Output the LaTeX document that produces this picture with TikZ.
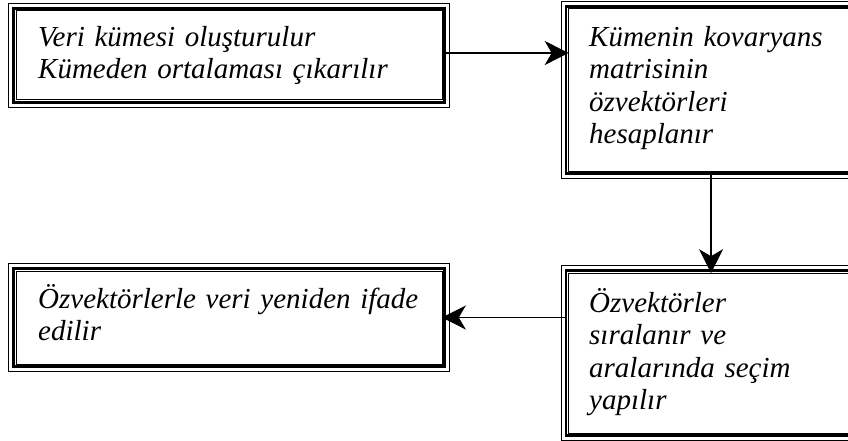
\documentclass[tikz,border=0pt]{standalone}
\usepackage{fontspec}
\setmainfont{Liberation Serif}
\usetikzlibrary{arrows.meta}
\tikzset{
  boxframe/.style={draw, line width=2.2pt, inner sep=0pt, rectangle},
  thinframe/.style={draw, line width=1pt},
  txt/.style={anchor=base west, inner sep=0pt, align=left, text width=#1,
    font=\fontsize{29}{32.5}\selectfont\itshape},
  arr/.style={line width=1.3pt, -{Stealth[length=24pt,width=24pt,inset=7pt]}}
}
\newcommand\tframe[1]{%
  \draw[thinframe] ([xshift=-3.8pt,yshift=3.8pt]#1.north west) rectangle ([xshift=3.8pt,yshift=-3.8pt]#1.south east);
  \draw[thinframe] ([xshift=3.6pt,yshift=-3.6pt]#1.north west) rectangle ([xshift=-3.6pt,yshift=3.6pt]#1.south east);
}
\begin{document}
\begin{tikzpicture}[x=1pt,y=-1pt]
\useasboundingbox (0,0) rectangle (848,441);
\clip (0,0) rectangle (848,441);
\fill[white] (0,0) rectangle (848,441);
% boxes (thick middle line)
\node[boxframe, minimum width=431pt, minimum height=94pt] (b1) at (229,55.5) {};
\node[boxframe, minimum width=290pt, minimum height=167pt] (b2) at (711,90) {};
\node[boxframe, minimum width=290pt, minimum height=165pt] (b3) at (711,353) {};
\node[boxframe, minimum width=431pt, minimum height=98pt] (b4) at (229,317.5) {};
\tframe{b1}\tframe{b2}\tframe{b3}\tframe{b4}
% texts
\node[txt=400pt] (t1) at (38,46.5) {Veri kümesi oluşturulur\\Kümeden ortalaması çıkarılır};
\node[txt=255pt] (t2) at (589,46.5) {Kümenin kovaryans\\matrisinin\\özvektörleri\\hesaplanır};
\node[txt=255pt] (t3) at (589,312) {Özvektörler\\sıralanır ve\\aralarında seçim\\yapılır};
\node[txt=400pt] (t4) at (38,308) {Özvektörlerle veri yeniden ifade\\edilir};
% connectors
\draw[arr, shorten >=-3.8pt, shorten <=-3pt] ([yshift=2.5pt]b1.east) -- ([yshift=2.5pt]b1.east -| b2.west);
\draw[arr, shorten >=-3.8pt, shorten <=-1pt] (b2.south) -- (b3.north);
\draw[arr, shorten >=-3.8pt] (b4.east -| b3.west) -- (b4.east);
\end{tikzpicture}
\end{document}
